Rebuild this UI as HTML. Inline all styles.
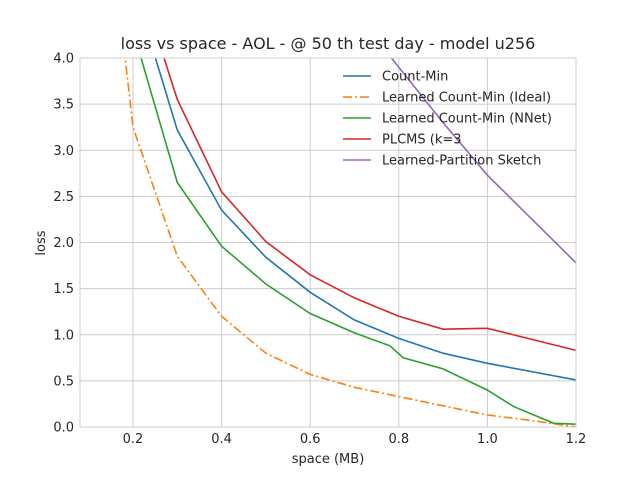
<!DOCTYPE html>
<html><head><meta charset="utf-8"><style>
body{margin:0;background:#fff;}
svg{display:block;font-family:"DejaVu Sans","Liberation Sans",sans-serif;}
</style></head><body>
<svg id="chart" width="640" height="480">
<defs><clipPath id="clip"><rect x="80" y="58" width="496" height="369"/></clipPath></defs>
<rect x="80" y="58" width="496" height="369" fill="#fff"/>
<g id="grid"></g>
<g id="series" clip-path="url(#clip)"></g>
<rect x="80" y="58" width="496" height="369" fill="none" stroke="#ccc" stroke-width="1"/>
<g id="ticks"></g>
<text x="328" y="49" text-anchor="middle" font-size="16" fill="#262626">loss vs space - AOL - @ 50 th test day - model u256</text>
<text x="328" y="463" text-anchor="middle" font-size="13" fill="#262626">space (MB)</text>
<text x="45" y="243" text-anchor="middle" font-size="13" fill="#262626" transform="rotate(-90 45 243)">loss</text>
<g id="legend"></g>
</svg>
<script>
const xTicks=[0.2,0.4,0.6,0.8,1.0,1.2];
const xTickLabels=["0.2","0.4","0.6","0.8","1.0","1.2"];
const yTicks=[0,0.5,1,1.5,2,2.5,3,3.5,4];
const yTickLabels=["0.0","0.5","1.0","1.5","2.0","2.5","3.0","3.5","4.0"];
const seriesNames=["Count-Min","Learned Count-Min (Ideal)","Learned Count-Min (NNet)","PLCMS (k=3","Learned-Partition Sketch"];
const seriesColors=["#1f77b4","#ff7f0e","#2ca02c","#d62728","#9467bd"];
const cmX=[0.2,0.3,0.4,0.5,0.6,0.7,0.8,0.9,1.0,1.2];
const cmY=[4.8,3.22,2.35,1.84,1.46,1.16,0.96,0.80,0.69,0.51];
const idealX=[0.18,0.2,0.3,0.4,0.5,0.6,0.7,0.8,0.9,1.0,1.1,1.2];
const idealY=[4.1,3.25,1.85,1.2,0.8,0.57,0.43,0.33,0.23,0.13,0.07,0.0];
const nnetX=[0.2,0.3,0.4,0.5,0.6,0.7,0.78,0.81,0.9,1.0,1.06,1.15,1.2];
const nnetY=[4.3,2.65,1.96,1.55,1.23,1.02,0.88,0.75,0.63,0.4,0.22,0.04,0.03];
const plcmsX=[0.2,0.3,0.4,0.5,0.6,0.7,0.8,0.9,1.0,1.2];
const plcmsY=[5.05,3.55,2.55,2.01,1.65,1.40,1.2,1.06,1.07,0.83];
const lpsX=[0.7,0.8,0.9,1.0,1.2];
const lpsY=[4.5,3.9,3.3,2.73,1.78];
const xs=v=>133+(v-0.2)*443;
const ys=v=>427-v*92.25;
const NS="http://www.w3.org/2000/svg";
function mk(tag,attrs,parent){const e=document.createElementNS(NS,tag);for(const k in attrs)e.setAttribute(k,attrs[k]);parent.appendChild(e);return e;}
const grid=document.getElementById('grid'),ticks=document.getElementById('ticks');
xTicks.forEach((t,i)=>{
 const l=mk('line',{x1:xs(t),x2:xs(t),y1:58,y2:427,stroke:'#ccc','stroke-width':1},grid);
 
 
 const tx=mk('text',{x:xs(t),y:443,'text-anchor':'middle','font-size':13,fill:'#262626'},ticks);
 tx.textContent=xTickLabels[i];
 
 
});
yTicks.forEach((t,i)=>{
 const l=mk('line',{x1:80,x2:576,y1:ys(t),y2:ys(t),stroke:'#ccc','stroke-width':1},grid);
 
 
 const tx=mk('text',{x:74,y:ys(t)+4.5,'text-anchor':'end','font-size':13,fill:'#262626'},ticks);
 tx.textContent=yTickLabels[i];
 
 
});
const data=[[cmX,cmY],[idealX,idealY],[nnetX,nnetY],[plcmsX,plcmsY],[lpsX,lpsY]];
const sg=document.getElementById('series');
const dashes=["","9,3,2,3","","",""];
const names=['count-min-line','learned-count-min-ideal-line','learned-count-min-nnet-line','plcms-line','learned-partition-sketch-line'];
data.forEach((d,i)=>{
 const pts=d[0].map((x,j)=>xs(x).toFixed(1)+','+ys(d[1][j]).toFixed(1)).join(' ');
 const p=mk('polyline',{points:pts,fill:'none',stroke:seriesColors[i],'stroke-width':1.6,'stroke-dasharray':dashes[i]},sg);
 
 
});
const lg=document.getElementById('legend');
const box=mk('rect',{x:333,y:62,width:240,height:113,fill:'none',stroke:'none'},lg);


seriesNames.forEach((n,i)=>{
 const y=76+i*21;
 const l=mk('line',{x1:343,x2:371,y1:y,y2:y,stroke:seriesColors[i],'stroke-width':1.6,'stroke-dasharray':dashes[i]},lg);
 
 
 const t=mk('text',{x:382,y:y+4.5,'font-size':13,fill:'#262626'},lg);
 t.textContent=n;
 
 
});
</script>
</body></html>
